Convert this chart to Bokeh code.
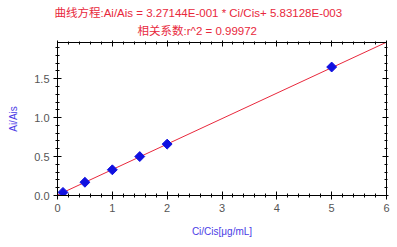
import math
from bokeh.plotting import figure
from bokeh.models import Title, LinearAxis, Range1d, FixedTicker, NumeralTickFormatter, CustomJSTickFormatter
from bokeh.embed import file_html
from bokeh.resources import INLINE

x_conc = [0.1, 0.5, 1.0, 1.5, 2.0, 5.0]
y_ratio = [0.04, 0.17, 0.33, 0.50, 0.66, 1.65]
slope = 0.327144
intercept = 0.00583128
fit_x = [0.0, 6.0]
fit_y = [intercept + slope * v for v in fit_x]
x_ticks = [0, 1, 2, 3, 4, 5, 6]
y_ticks = [0.0, 0.5, 1.0, 1.5]
title1 = "曲线方程:Ai/Ais = 3.27144E-001 * Ci/Cis+ 5.83128E-003"
title2 = "相关系数:r^2 = 0.99972"

FONT = "Liberation Sans, Arial, Noto Sans CJK SC"
RED = "#e8283c"
BLUE = "#4a3ce6"

p = figure(width=397, height=247, output_backend="svg", toolbar_location=None,
           x_range=Range1d(0, 6), y_range=Range1d(0, 1.965),
           min_border_left=57, min_border_right=11, min_border_top=42, min_border_bottom=52,
           x_axis_label="Ci/Cis[μg/mL]", y_axis_label="Ai/Ais")
p.grid.visible = False
p.outline_line_color = "black"
p.background_fill_color = "white"
p.border_fill_color = "white"

for ax in (p.xaxis[0], p.yaxis[0]):
    ax.axis_label_text_color = BLUE
    ax.axis_label_text_font = FONT
    ax.axis_label_text_font_size = "10px"
    ax.axis_label_text_font_style = "normal"
    ax.major_label_text_font = FONT
    ax.major_label_text_font_size = "11px"
    ax.major_label_text_color = "#555555"
    ax.major_tick_in = 4
    ax.major_tick_out = 4
    ax.minor_tick_in = 2
    ax.minor_tick_out = 2
    ax.axis_line_color = "black"
    ax.major_tick_line_color = "black"
    ax.minor_tick_line_color = "black"

p.xaxis[0].ticker = FixedTicker(ticks=x_ticks, minor_ticks=[i * 0.2 for i in range(31)])
p.yaxis[0].ticker = FixedTicker(ticks=y_ticks, minor_ticks=[i * 0.1 for i in range(20)])
p.yaxis[0].formatter = NumeralTickFormatter(format="0.0")
p.xaxis[0].axis_label_standoff = 11
p.yaxis[0].axis_label_standoff = 12
p.xaxis[0].major_label_standoff = 4
p.yaxis[0].major_label_standoff = 4

top = LinearAxis(ticker=FixedTicker(ticks=x_ticks, minor_ticks=[i * 0.2 for i in range(31)]),
                 formatter=CustomJSTickFormatter(code="return ''"), major_tick_in=4, major_tick_out=2,
                 minor_tick_in=2, minor_tick_out=1, major_label_standoff=0)
right = LinearAxis(ticker=FixedTicker(ticks=y_ticks, minor_ticks=[i * 0.1 for i in range(20)]),
                   formatter=CustomJSTickFormatter(code="return ''"), major_tick_in=4, major_tick_out=2,
                   minor_tick_in=2, minor_tick_out=1)
p.add_layout(top, "above")
p.add_layout(right, "right")

p.line(fit_x, fit_y, line_color=RED, line_width=1)
p.scatter(x_conc, y_ratio, marker="square", angle=math.pi / 4, size=7, fill_color="#1010e0",
          line_color="#1010e0")

p.title.text = title1
p.title.align = "left"
p.title.offset = -3
p.title.text_color = RED
p.title.text_font = FONT
p.title.text_font_size = "11.5px"
p.title.text_font_style = "normal"
p.title.standoff = 0
t2 = Title(text=title2, align="left", offset=80, text_color=RED, text_font=FONT,
           text_font_size="11.5px", text_font_style="normal", standoff=8)
p.add_layout(t2, "above")

open("out.html", "w").write(file_html(p, INLINE))
